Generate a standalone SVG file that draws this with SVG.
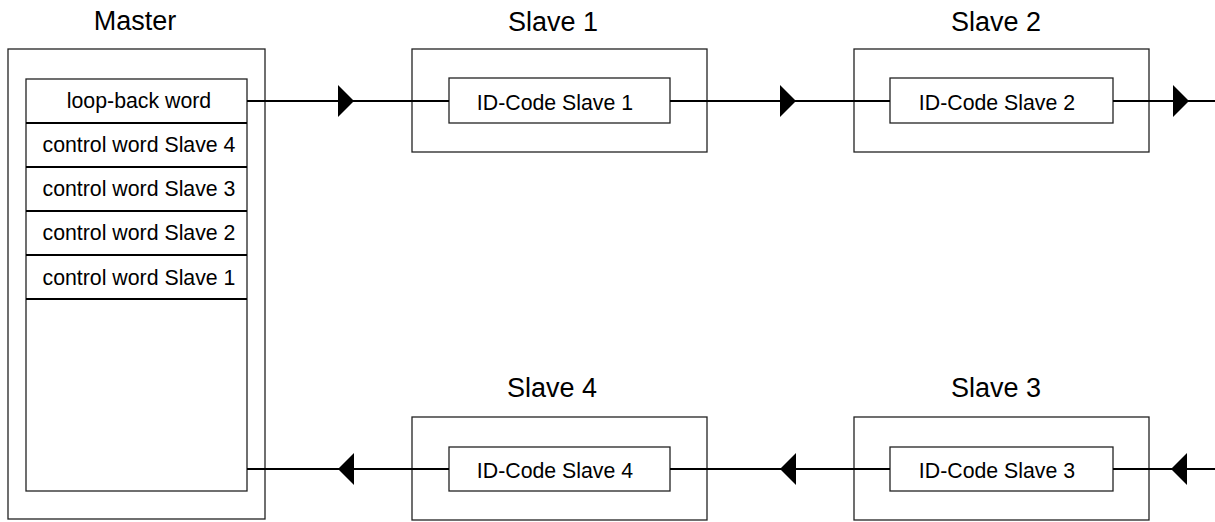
<svg xmlns="http://www.w3.org/2000/svg" xmlns:xlink="http://www.w3.org/1999/xlink" width="1215" height="522" viewBox="0 0 1215 522">
  <style>
    .frame { fill: #fff; stroke: #222; stroke-width: 1.3; }
    .cell { fill: #fff; stroke: #222; stroke-width: 1.3; }
    .div { stroke: #000; stroke-width: 2; }
    .wire { stroke: #000; stroke-width: 2; fill: none; }
    .head { fill: #000; }
    .title { font-family: "Liberation Sans", Arial, sans-serif; font-size: 27px; fill: #000; text-anchor: middle; }
    .label { font-family: "Liberation Sans", Arial, sans-serif; font-size: 21.3px; fill: #000; text-anchor: middle; }
  </style>
  <defs>
    <!-- arrowheads centred on their tip -->
    <path id="head-right" class="head" d="M0,0 L-16,-16 L-16,16 Z"/>
    <path id="head-left" class="head" d="M0,0 L16,-16 L16,16 Z"/>
  </defs>

  <rect width="1215" height="522" fill="#fff"/>

  <!-- Master with its word stack -->
  <g id="master">
    <text class="title" x="135" y="30">Master</text>
    <rect class="frame" x="8" y="49" width="257" height="470"/>
    <rect class="cell" x="26" y="79" width="221" height="412"/>
    <line class="div" x1="26" y1="123" x2="247" y2="123"/>
    <line class="div" x1="26" y1="167" x2="247" y2="167"/>
    <line class="div" x1="26" y1="211" x2="247" y2="211"/>
    <line class="div" x1="26" y1="255" x2="247" y2="255"/>
    <line class="div" x1="26" y1="299" x2="247" y2="299"/>
    <text class="label" x="139" y="108">loop-back word</text>
    <text class="label" x="139" y="152">control word Slave 4</text>
    <text class="label" x="139" y="196">control word Slave 3</text>
    <text class="label" x="139" y="240">control word Slave 2</text>
    <text class="label" x="139" y="285">control word Slave 1</text>
  </g>

  <g id="slave1">
    <text class="title" x="553" y="31">Slave 1</text>
    <rect class="frame" x="412" y="49" width="295" height="103"/>
    <rect class="cell" x="449" y="78" width="221" height="45"/>
    <text class="label" x="555" y="110">ID-Code Slave 1</text>
  </g>

  <g id="slave2">
    <text class="title" x="996" y="31">Slave 2</text>
    <rect class="frame" x="854" y="49" width="295" height="103"/>
    <rect class="cell" x="890" y="78" width="223" height="45"/>
    <text class="label" x="997" y="110">ID-Code Slave 2</text>
  </g>

  <g id="slave3">
    <text class="title" x="996" y="397">Slave 3</text>
    <rect class="frame" x="854" y="417" width="295" height="103"/>
    <rect class="cell" x="890" y="447" width="223" height="44"/>
    <text class="label" x="997" y="478">ID-Code Slave 3</text>
  </g>

  <g id="slave4">
    <text class="title" x="552" y="397">Slave 4</text>
    <rect class="frame" x="412" y="417" width="295" height="103"/>
    <rect class="cell" x="449" y="447" width="221" height="44"/>
    <text class="label" x="555" y="478">ID-Code Slave 4</text>
  </g>

  <!-- ring: Master -> Slave 1 -> Slave 2 -> ... -> Slave 3 -> Slave 4 -> Master -->
  <g id="connectors">
    <line class="wire" x1="247" y1="101" x2="449" y2="101"/>
    <line class="wire" x1="670" y1="101" x2="890" y2="101"/>
    <line class="wire" x1="1113" y1="101" x2="1215" y2="101"/>
    <line class="wire" x1="1215" y1="469" x2="1113" y2="469"/>
    <line class="wire" x1="890" y1="469" x2="670" y2="469"/>
    <line class="wire" x1="449" y1="469" x2="247" y2="469"/>
    <use xlink:href="#head-right" x="354" y="101"/>
    <use xlink:href="#head-right" x="796" y="101"/>
    <use xlink:href="#head-right" x="1189" y="101"/>
    <use xlink:href="#head-left" x="1171" y="469"/>
    <use xlink:href="#head-left" x="780" y="469"/>
    <use xlink:href="#head-left" x="338" y="469"/>
  </g>
</svg>
